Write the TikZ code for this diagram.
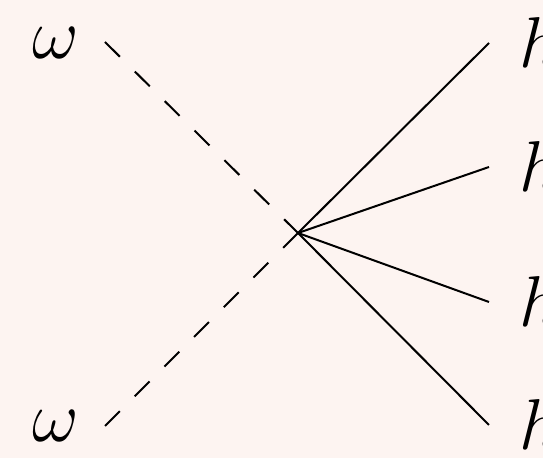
\RequirePackage{fix-cm}
\documentclass[tikz,border=0pt]{standalone}
\definecolor{bgpink}{RGB}{253,244,241}
\begin{document}
\begin{tikzpicture}[
  x=0.5pt, y=-0.5pt,
  lbl/.style={inner sep=0pt, font=\fontsize{36}{43}\selectfont},
  ghost/.style={draw, dash pattern=on 10.5pt off 10.5pt, line width=1pt},
  higgs/.style={draw, line width=1pt}
]
\fill[bgpink] (0,0) rectangle (543,458);
\useasboundingbox (0,0) rectangle (543,458);
\clip (0,0) rectangle (543,458);
\coordinate (v) at (298,233);
\coordinate (in1) at (105,42);
\coordinate (in2) at (105,426);
\coordinate (out1) at (489,43);
\coordinate (out2) at (489,167);
\coordinate (out3) at (489,302);
\coordinate (out4) at (489,425);
\node[lbl, anchor=base east] (w1) at (79,59) {$\omega$};
\node[lbl, anchor=base east] (w2) at (79,442) {$\omega$};
\node[lbl, anchor=base west] (h1) at (519,68) {$h$};
\node[lbl, anchor=base west] (h2) at (519,192) {$h$};
\node[lbl, anchor=base west] (h3) at (519,327) {$h$};
\node[lbl, anchor=base west] (h4) at (519,450) {$h$};
\draw[ghost] (in1) -- (v);
\draw[ghost] (in2) -- (v);
\draw[higgs] (v) -- (out1);
\draw[higgs] (v) -- (out2);
\draw[higgs] (v) -- (out3);
\draw[higgs] (v) -- (out4);
\end{tikzpicture}
\end{document}
